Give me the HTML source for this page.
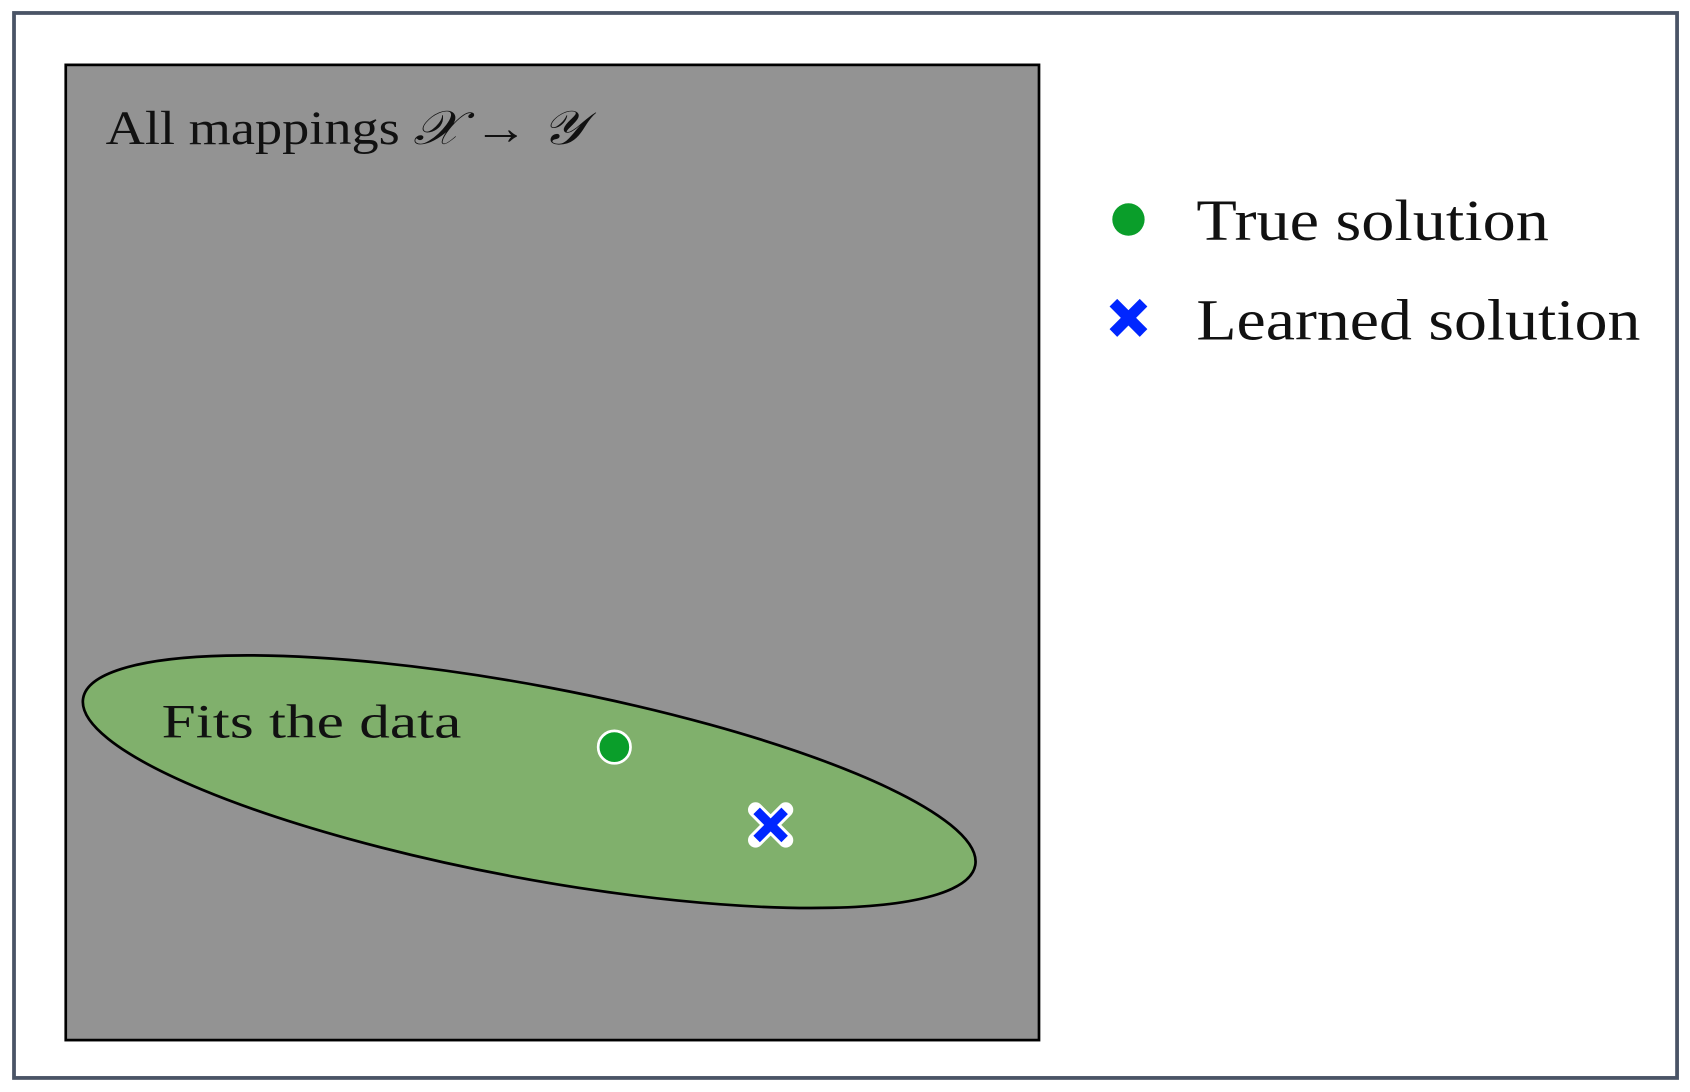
<!DOCTYPE html>
<html><head><meta charset="utf-8"><style>html,body{margin:0;padding:0;background:#fff}svg{display:block}</style></head>
<body>
<svg width="1690" height="1092" viewBox="0 0 1568 1010" preserveAspectRatio="none" xmlns="http://www.w3.org/2000/svg" font-family="'Liberation Serif', serif">
<rect x="0" y="0" width="1568" height="1010" fill="#fff"/>
<rect x="13" y="12" width="1543" height="985" fill="#fff" stroke="#4a5466" stroke-width="3.5"/>
<rect x="61" y="60" width="903" height="902" fill="#939393" stroke="#000" stroke-width="2.5"/>
<ellipse cx="491" cy="723" rx="421" ry="89" transform="rotate(10.6 491 723)" fill="#80b06c" stroke="#000" stroke-width="2.5"/>
<text x="98" y="133" font-size="44" textLength="444" lengthAdjust="spacingAndGlyphs" fill="#111">All mappings <tspan font-style="italic">𝒳</tspan> → <tspan font-style="italic">𝒴</tspan></text>
<text x="150" y="682" font-size="44" textLength="278" lengthAdjust="spacingAndGlyphs" fill="#111">Fits the data</text>
<circle cx="570" cy="691" r="15" fill="#0a9e2a" stroke="#fff" stroke-width="2.5"/>
<g transform="translate(715 763)">
<path d="M-14 -14 L14 14 M14 -14 L-14 14" stroke="#fff" stroke-width="14" stroke-linecap="round"/>
<path d="M-13 -13 L13 13 M13 -13 L-13 13" stroke="#0026ff" stroke-width="8.5"/>
</g>
<circle cx="1047" cy="203" r="15" fill="#0a9e2a"/>
<path d="M1033 280 L1061 308 M1061 280 L1033 308" stroke="#0026ff" stroke-width="10"/>
<text x="1110" y="222" font-size="54" textLength="327" lengthAdjust="spacingAndGlyphs" fill="#111">True solution</text>
<text x="1110" y="314" font-size="54" textLength="412" lengthAdjust="spacingAndGlyphs" fill="#111">Learned solution</text>
</svg>
</body></html>
